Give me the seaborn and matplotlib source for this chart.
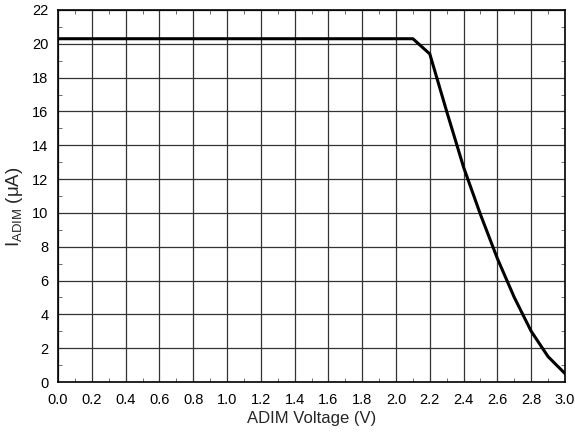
import numpy as np
import pandas as pd
import matplotlib
matplotlib.use("Agg")
import matplotlib.pyplot as plt
import seaborn as sns
from matplotlib.ticker import MultipleLocator

# datos
voltaje = [0.0, 0.5, 1.0, 1.5, 2.0, 2.1, 2.2, 2.3, 2.4, 2.5, 2.6, 2.7, 2.8, 2.9, 3.0]
corriente = [20.3, 20.3, 20.3, 20.3, 20.3, 20.3, 19.4, 16.0, 12.7, 9.9, 7.3, 5.0, 3.0, 1.5, 0.5]

df = pd.DataFrame({'voltaje': voltaje, 'corriente': corriente})

sns.set_style('white')
plt.rcParams['font.family'] = ['Liberation Sans', 'DejaVu Sans']
plt.rcParams['mathtext.fontset'] = 'custom'
plt.rcParams['mathtext.rm'] = 'Liberation Sans'
plt.rcParams['mathtext.it'] = 'Liberation Sans'

fig = plt.figure(figsize=(5.75, 4.34), dpi=100)
ax = fig.add_axes([0.1009, 0.1198, 0.8817, 0.8572])

sns.lineplot(x='voltaje', y='corriente', data=df, color='black', linewidth=2.2, ax=ax)

ax.set_xlim(0, 3.0)
ax.set_ylim(0, 22)
ax.xaxis.set_major_locator(MultipleLocator(0.2))
ax.xaxis.set_minor_locator(MultipleLocator(0.1))
ax.yaxis.set_major_locator(MultipleLocator(2))
ax.yaxis.set_minor_locator(MultipleLocator(1))
ax.set_xticklabels([f'{v:.1f}' for v in ax.get_xticks()])
ax.grid(True, which='major', color='#333333', linewidth=0.9)
ax.tick_params(which='major', length=0, labelsize=10.5, colors='black')
ax.tick_params(axis='x', which='major', pad=8)
ax.tick_params(axis='y', which='major', pad=7)
ax.tick_params(which='minor', length=3, direction='in', top=True, right=True, bottom=True, left=True, color='#555555')
for s in ax.spines.values():
    s.set_color('black')
    s.set_linewidth(1.2)

ax.set_xlabel('ADIM Voltage (V)', fontsize=12, labelpad=3)
ax.set_ylabel(r'I$_{\mathregular{ADIM}}$ ($\mu$A)', fontsize=13.5)
ax.yaxis.set_label_coords(-0.066, 0.47)

fig.savefig('out.png', dpi=100)
